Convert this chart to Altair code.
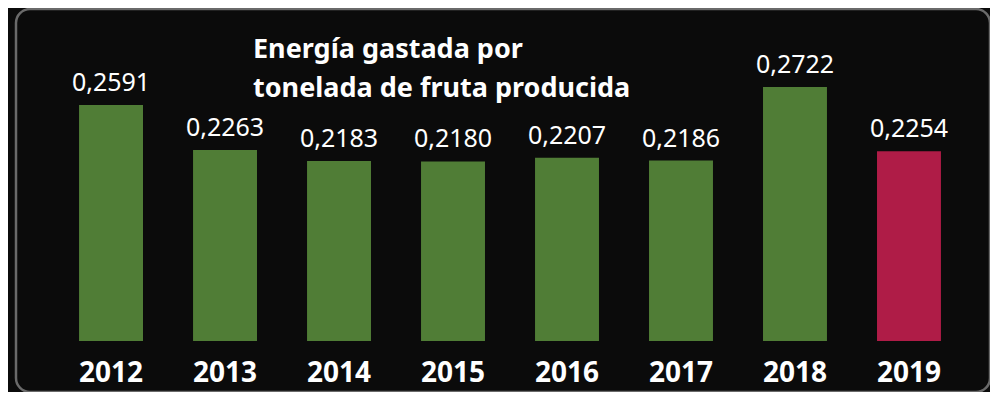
import altair as alt
import pandas as pd

years = ["2012", "2013", "2014", "2015", "2016", "2017", "2018", "2019"]
values = [0.2591, 0.2263, 0.2183, 0.2180, 0.2207, 0.2186, 0.2722, 0.2254]
groups = ["anterior"] * 7 + ["actual"]
labels = [f"{v:.4f}".replace(".", ",") for v in values]
title_lines = ["Energía gastada por", "tonelada de fruta producida"]

df = pd.DataFrame({"year": years, "value": values, "label": labels, "grupo": groups})

BASE = 0.0872
FONT = "Noto Sans"

xscale = alt.Scale(paddingInner=0.439, paddingOuter=0.4917, align=0.5625)
x = alt.X(
    "year:N",
    sort=years,
    scale=xscale,
    axis=alt.Axis(
        title=None, orient="bottom", offset=-11, labelAngle=0, domain=False, ticks=False,
        labelPadding=0, labelBaseline="alphabetic", labelFont=FONT, labelFontSize=28,
        labelFontWeight="bold", labelColor="white", grid=False,
    ),
)
y = alt.Y("value:Q", scale=alt.Scale(domain=[0.0501, 0.3290], zero=False, nice=False), axis=None)

bars = alt.Chart(df).mark_bar().encode(
    x=x,
    y=y,
    y2=alt.datum(BASE),
    color=alt.Color(
        "grupo:N",
        scale=alt.Scale(domain=["anterior", "actual"], range=["#507d36", "#af1c47"]),
        legend=None,
    ),
)

text = alt.Chart(df).mark_text(
    baseline="alphabetic", dy=-14, font=FONT, fontSize=25, color="white"
).encode(
    x=alt.X("year:N", sort=years, scale=xscale),
    y=alt.Y("value:Q"),
    text="label:N",
)

chart = (
    alt.layer(bars, text)
    .properties(
        width=974,
        height=383,
        padding={"left": 8, "top": 1, "right": 0, "bottom": 0},
        autosize=alt.AutoSizeParams(type="none"),
        background="#0b0b0b",
        title=alt.TitleParams(
            text=title_lines, anchor="start", frame="group", dx=237, offset=-94,
            font=FONT, fontSize=27, fontWeight="bold", color="white", lineHeight=39,
        ),
    )
    .configure_view(stroke="#6a6a6a", strokeWidth=2.5, cornerRadius=14, fill="#0b0b0b")
)

chart.save("out.html", embed_options={"renderer": "svg", "actions": False})
